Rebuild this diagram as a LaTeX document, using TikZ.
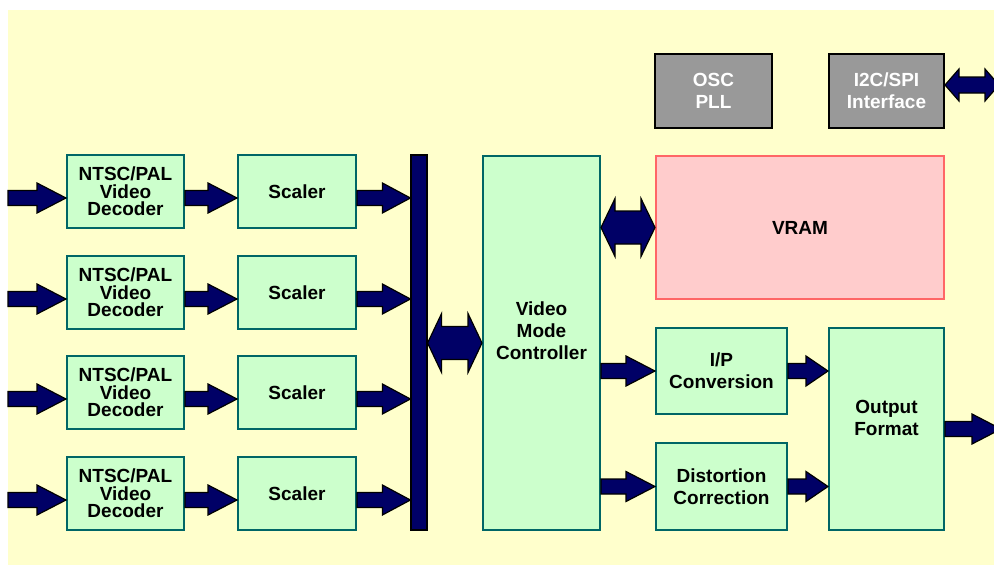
\documentclass[tikz,border=0pt]{standalone}
\usepackage{fontspec}
\setmainfont{Liberation Sans}
\usetikzlibrary{calc}
\definecolor{bgyellow}{HTML}{FFFFCC}
\definecolor{gfill}{HTML}{CCFFCC}
\definecolor{gline}{HTML}{006666}
\definecolor{navyblue}{HTML}{000066}
\definecolor{pfill}{HTML}{FFCCCC}
\definecolor{pline}{HTML}{FF6666}
\definecolor{boxgray}{HTML}{999999}
\tikzset{
  txt/.style={align=center, font=\bfseries\fontsize{19}{22}\selectfont},
  gbox/.style={draw=gline, fill=gfill, line width=2pt, inner sep=0pt, txt},
  decbox/.style={gbox, font=\bfseries\fontsize{19}{17.5}\selectfont},
  graybox/.style={draw=black, fill=boxgray, line width=2pt, inner sep=0pt, txt, text=white},
  vrambox/.style={draw=pline, fill=pfill, line width=2pt, inner sep=0pt, txt},
  busbar/.style={draw=black, fill=navyblue, line width=1.2pt, inner sep=0pt},
  blk/.style={draw=black, fill=navyblue, line width=1.2pt, line join=miter}
}
% right-pointing block arrow: #1 start, #2 end, #3 shaft half, #4 head half, #5 head length
\newcommand\rarrow[5]{\filldraw[blk] let \p1=#1, \p2=#2 in
  (\x1,\y1+#3) -- (\x2-#5,\y1+#3) -- (\x2-#5,\y1+#4) -- (\x2,\y1) --
  (\x2-#5,\y1-#4) -- (\x2-#5,\y1-#3) -- (\x1,\y1-#3) -- cycle;}
% double-headed block arrow
\newcommand\darrow[5]{\filldraw[blk] let \p1=#1, \p2=#2 in
  (\x1,\y1) -- (\x1+#5,\y1+#4) -- (\x1+#5,\y1+#3) -- (\x2-#5,\y1+#3) --
  (\x2-#5,\y1+#4) -- (\x2,\y1) -- (\x2-#5,\y1-#4) -- (\x2-#5,\y1-#3) --
  (\x1+#5,\y1-#3) -- (\x1+#5,\y1-#4) -- cycle;}
\begin{document}
\begin{tikzpicture}[x=1pt,y=-1pt]
\useasboundingbox (0,0) rectangle (994,565);
\fill[bgyellow] (8,10) rectangle (994,565);

% decoder / scaler rows
\foreach \i/\y in {1/191.5,2/292.5,3/392.5,4/493.5}{
  \node[decbox, minimum width=117pt, minimum height=73pt] (dec\i) at (125.5,\y) {NTSC/PAL\\Video\\Decoder};
  \node[gbox, minimum width=118pt, minimum height=73pt] (sc\i) at (297,\y) {Scaler};
  \coordinate (in\i) at (8,\y+6.5);
}
\node[busbar, minimum width=16pt, minimum height=375pt] (bus) at (419,342.5) {};

\node[gbox, minimum width=117pt, minimum height=374pt] (vmc) at (541.5,343) {};
\node[txt] (vmctext) at (541.5,331) {Video\\Mode\\Controller};

\node[vrambox, minimum width=288pt, minimum height=143pt] (vram) at (800,227.5) {VRAM};
\node[graybox, minimum width=117pt, minimum height=74pt] (osc) at (713.5,91) {OSC\\PLL};
\node[graybox, minimum width=115pt, minimum height=74pt] (i2c) at (886.5,91) {I2C/SPI\\Interface};

\node[gbox, minimum width=131pt, minimum height=86pt] (ip) at (721.5,371) {I/P\\Conversion};
\node[gbox, minimum width=131pt, minimum height=87pt] (dist) at (721.5,486.5) {Distortion\\Correction};
\node[gbox, minimum width=115pt, minimum height=202pt] (out) at (886.5,429) {};
\node[txt] (outtext) at (886.5,417.5) {Output\\Format};

\coordinate (outend) at (1001,429);
\coordinate (i2cend) at (999,85);

% arrows
\foreach \i in {1,2,3,4}{
  \rarrow{(in\i)}{(dec\i.west |- in\i)}{7.5pt}{15pt}{29pt}
  \rarrow{(dec\i.east |- in\i)}{(sc\i.west |- in\i)}{7.5pt}{15pt}{29pt}
  \rarrow{(sc\i.east |- in\i)}{(bus.west |- in\i)}{7.5pt}{15pt}{28pt}
}
\darrow{(bus.east |- vmc.west)}{(vmc.west)}{16.5pt}{29.5pt}{14pt}
\darrow{(vmc.east |- vram.west)}{(vram.west)}{16.5pt}{29pt}{14pt}
\rarrow{(vmc.east |- ip.west)}{(ip.west)}{7.5pt}{15pt}{29pt}
\rarrow{(vmc.east |- dist.west)}{(dist.west)}{7.5pt}{15pt}{29pt}
\rarrow{(ip.east)}{(out.west |- ip.east)}{7.5pt}{15pt}{22pt}
\rarrow{(dist.east)}{(out.west |- dist.east)}{7.5pt}{15pt}{22pt}
\rarrow{(out.east)}{(outend)}{7.5pt}{15pt}{29pt}
\darrow{(i2c.east |- i2cend)}{(i2cend)}{8pt}{16pt}{14pt}
\end{tikzpicture}
\end{document}
